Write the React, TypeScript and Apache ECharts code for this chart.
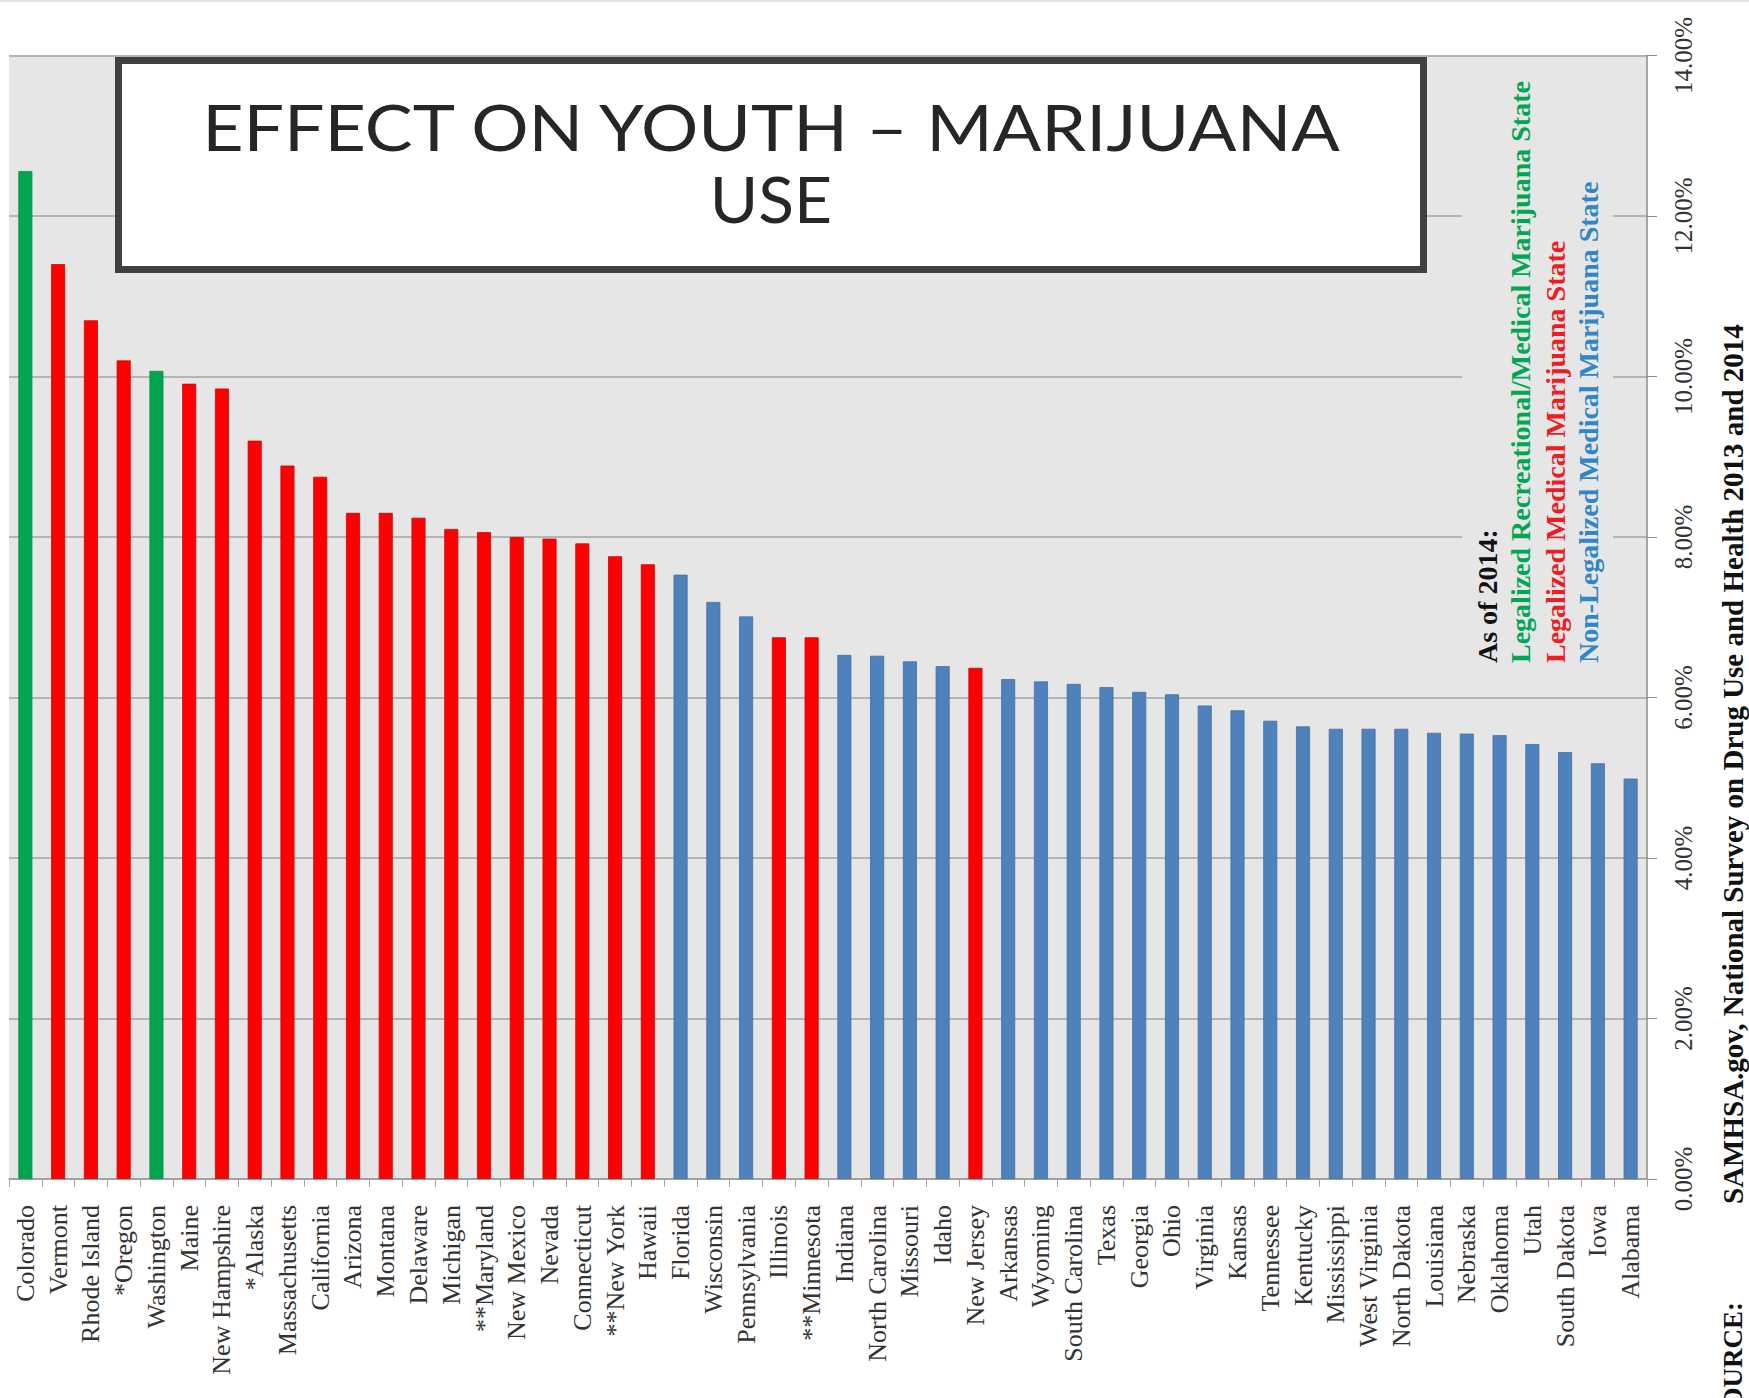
import React, { useEffect, useRef } from "react";
import * as echarts from "echarts";

// Past-month marijuana use among 12–17 year olds, by state (percent)
const states = [
  "Colorado", "Vermont", "Rhode Island", "*Oregon", "Washington", "Maine",
  "New Hampshire", "*Alaska", "Massachusetts", "California", "Arizona",
  "Montana", "Delaware", "Michigan", "**Maryland", "New Mexico", "Nevada",
  "Connecticut", "**New York", "Hawaii", "Florida", "Wisconsin",
  "Pennsylvania", "Illinois", "**Minnesota", "Indiana", "North Carolina",
  "Missouri", "Idaho", "New Jersey", "Arkansas", "Wyoming", "South Carolina",
  "Texas", "Georgia", "Ohio", "Virginia", "Kansas", "Tennessee", "Kentucky",
  "Mississippi", "West Virginia", "North Dakota", "Louisiana", "Nebraska",
  "Oklahoma", "Utah", "South Dakota", "Iowa", "Alabama",
];

const youthUse = [
  12.56, 11.40, 10.70, 10.20, 10.07, 9.91, 9.85, 9.20, 8.89, 8.75,
  8.30, 8.30, 8.24, 8.10, 8.06, 8.00, 7.98, 7.92, 7.76, 7.66,
  7.53, 7.19, 7.01, 6.75, 6.75, 6.53, 6.52, 6.45, 6.39, 6.37,
  6.23, 6.20, 6.17, 6.13, 6.07, 6.04, 5.90, 5.84, 5.71, 5.64,
  5.61, 5.61, 5.61, 5.56, 5.55, 5.53, 5.42, 5.32, 5.18, 4.99,
];

// rec = recreational + medical, med = medical only, none = not legalized
const legalStatus = [
  "rec", "med", "med", "med", "rec", "med", "med", "med", "med", "med",
  "med", "med", "med", "med", "med", "med", "med", "med", "med", "med",
  "none", "none", "none", "med", "med", "none", "none", "none", "none", "med",
  "none", "none", "none", "none", "none", "none", "none", "none", "none", "none",
  "none", "none", "none", "none", "none", "none", "none", "none", "none", "none",
];

const legendLines = [
  { text: "As of 2014:", color: "#111111" },
  { text: "Legalized Recreational/Medical Marijuana State", color: "#00a651" },
  { text: "Legalized Medical Marijuana State", color: "#ee1c25" },
  { text: "Non-Legalized Medical Marijuana State", color: "#2f86c8" },
];

const titleLines = ["EFFECT ON YOUTH \u2013 MARIJUANA", "USE"];
const sourceLabel = "SOURCE:";
const sourceText = "SAMHSA.gov, National Survey on Drug Use and Health 2013 and 2014";

const BAR_COLORS: Record<string, string> = {
  rec: "#00a550",
  med: "#ff0000",
  none: "#4f81bd",
};
const BAR_EDGES: Record<string, string> = {
  rec: "#0a8f48",
  med: "#d40000",
  none: "#41709f",
};

const SERIF = '"Liberation Serif", "Times New Roman", serif';
const PLOT_BG = "#e6e6e6";

function rotatedText(
  text: string,
  x: number,
  y: number,
  color: string,
  size: number,
  align: "left" | "right"
) {
  return {
    type: "text",
    x,
    y,
    rotation: Math.PI / 2,
    z: 120,
    style: {
      text,
      fill: color,
      fontSize: size,
      fontWeight: "bold",
      fontFamily: SERIF,
      align,
      verticalAlign: "middle",
      textAlign: align,
      textVerticalAlign: "middle",
    },
  };
}

function titleText(text: string, y: number, stretch: number) {
  return {
    type: "text",
    z: 130,
    x: 771,
    y,
    scaleX: stretch,
    style: {
      text,
      fill: "#262626",
      fontSize: 64,
      fontFamily: "Lato, sans-serif",
      align: "center",
      verticalAlign: "middle",
      textAlign: "center",
      textVerticalAlign: "middle",
    },
  };
}

export default function App() {
  const ref = useRef<HTMLDivElement>(null);

  useEffect(() => {
    if (!ref.current) return;
    const chart = echarts.init(ref.current, null, { renderer: "svg" });

    const legendX = [1487, 1520, 1555, 1588];

    chart.setOption({
      animation: false,
      backgroundColor: "#ffffff",
      grid: {
        left: 9,
        right: 102,
        top: 55.5,
        bottom: 219,
        show: true,
        backgroundColor: PLOT_BG,
        borderWidth: 0,
      },
      xAxis: {
        type: "category",
        data: states,
        axisLine: { lineStyle: { color: "#9a9a9a", width: 1.5 } },
        axisTick: { show: true, length: 8, lineStyle: { color: "#a6a6a6" } },
        axisLabel: {
          interval: 0,
          rotate: 90,
          margin: 26,
          fontFamily: SERIF,
          fontSize: 26,
          color: "#333333",
        },
      },
      yAxis: {
        type: "value",
        position: "right",
        min: 0,
        max: 14,
        interval: 2,
        axisLine: { show: true, lineStyle: { color: "#8c8c8c", width: 1.5 } },
        axisTick: { show: true, length: 10, lineStyle: { color: "#8c8c8c" } },
        axisLabel: {
          rotate: 90,
          margin: 24,
          fontFamily: SERIF,
          fontSize: 25,
          color: "#333333",
          formatter: (v: number) => v.toFixed(2) + "%",
        },
        splitLine: { show: true, lineStyle: { color: "#b4b4b4", width: 2 } },
      },
      series: [
        {
          type: "bar",
          barWidth: 14,
          data: youthUse.map((v, i) => ({
            value: v,
            itemStyle: {
              color: BAR_COLORS[legalStatus[i]],
              borderColor: BAR_EDGES[legalStatus[i]],
              borderWidth: 0.8,
            },
          })),
        },
      ],
      graphic: [
        {
          type: "line",
          z: 120,
          shape: { x1: 0, y1: 1, x2: 1749, y2: 1 },
          style: { stroke: "#e2e2e2", lineWidth: 2 },
        },
        // legend panel sits over the grid lines
        {
          type: "rect",
          z: 110,
          shape: { x: 1462, y: 60, width: 151, height: 626 },
          style: { fill: PLOT_BG },
        },
        ...legendLines.map((l, i) =>
          rotatedText(l.text, legendX[i], 663, l.color, 28, "left")
        ),
        rotatedText(sourceText, 1733, 1204, "#111111", 29, "left"),
        rotatedText(sourceLabel, 1733, 1302, "#111111", 27, "right"),
        // title box
        {
          type: "rect",
          z: 120,
          shape: { x: 118.5, y: 60.5, width: 1305, height: 209 },
          style: { fill: "#ffffff", stroke: "#404040", lineWidth: 7 },
        },
        titleText(titleLines[0], 126, 1.12),
        titleText(titleLines[1], 198, 1.03),
      ],
    });

    return () => chart.dispose();
  }, []);

  return (
    <div
      ref={ref}
      style={{
        position: "absolute",
        left: 0,
        top: 0,
        width: 1749,
        height: 1398,
        background: "#ffffff",
      }}
    />
  );
}
